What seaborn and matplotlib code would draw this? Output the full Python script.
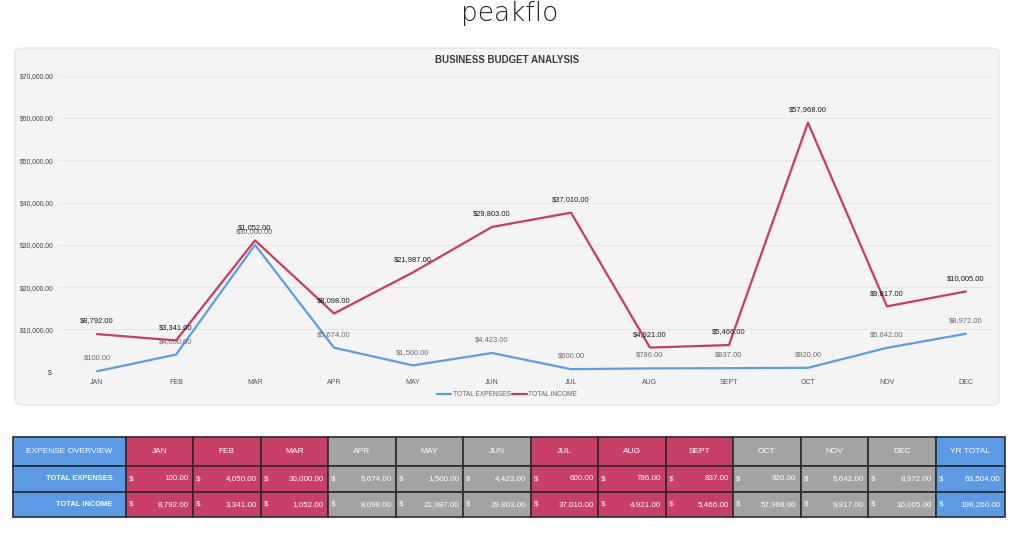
import numpy as np
import pandas as pd
import matplotlib
matplotlib.use('Agg')
import matplotlib.pyplot as plt
from matplotlib.patches import FancyBboxPatch, Rectangle
import seaborn as sns

# данные --------------------------------
months = ['JAN', 'FEB', 'MAR', 'APR', 'MAY', 'JUN', 'JUL', 'AUG', 'SEPT', 'OCT', 'NOV', 'DEC']
expenses = [100, 4050, 30000, 5674, 1500, 4423, 600, 786, 837, 920, 5642, 8972]
income = [8792, 3341, 1052, 8098, 21987, 29803, 37010, 4921, 5466, 57968, 9817, 10005]
series_names = ['TOTAL EXPENSES', 'TOTAL INCOME']
y_ticks = [0, 10000, 20000, 30000, 40000, 50000, 60000, 70000]

BLUE = '#5b9be6'
PINK = '#c93f68'
GREY = '#a3a3a3'
LINE_BLUE = '#5a9ee8'
LINE_PINK = '#cc3a62'

# линия дохода идёт "стопкой" поверх расходов, как в исходном графике
stacked_income = np.array(expenses) + np.array(income)
df = pd.DataFrame({
    'month': list(range(len(months))) * 2,
    'value': list(expenses) + list(stacked_income),
    'series': [series_names[0]] * len(months) + [series_names[1]] * len(months),
})

sns.set_theme(style='white')
plt.rcParams['font.family'] = ['Liberation Sans', 'DejaVu Sans']

W, H = 1024, 534
fig = plt.figure(figsize=(W / 100, H / 100), dpi=100)

def fx(px):
    return px / W

def fy(py):
    return 1 - py / H

# логотип
fig.text(fx(510), fy(13), 'peakflo', ha='center', va='center', fontsize=19,
         color='#1e1e1e', family=['DejaVu Sans'], fontweight=200)

# панель графика
panel = FancyBboxPatch((fx(15), fy(405)), fx(999) - fx(15), fy(48) - fy(405),
                       boxstyle='round,pad=0,rounding_size=0.009',
                       transform=fig.transFigure, facecolor='#f4f4f4',
                       edgecolor='#e2e2e2', linewidth=0.8, zorder=-5)
fig.patches.append(panel)

fig.text(fx(507), fy(60), 'BUSINESS BUDGET ANALYSIS', ha='center', va='center',
         fontsize=7, fontweight='bold', color='#3a3a3a')

# линии --------------------------------
ax = fig.add_axes([fx(58), fy(371.7), fx(992) - fx(58), fy(75.7) - fy(371.7)])
ax.set_facecolor('none')
sns.lineplot(data=df, x='month', y='value', hue='series',
             palette=[LINE_BLUE, LINE_PINK], linewidth=1.6, ax=ax, legend=False)

ax.set_xlim(-0.494, 11.33)
ax.set_ylim(0, 70000)
ax.set_yticks(y_ticks)
ax.set_yticklabels(['$-' if v == 0 else f'${v:,.2f}' for v in y_ticks])
ax.set_xticks(range(len(months)))
ax.set_xticklabels(months)
ax.tick_params(axis='y', labelsize=4.9, labelcolor='#444444', length=0, pad=3)
ax.tick_params(axis='x', labelsize=5, labelcolor='#555555', length=0, pad=5)
ax.grid(axis='y', color='#e6e6e6', linewidth=0.8)
ax.set_axisbelow(True)
for s in ax.spines.values():
    s.set_visible(False)
ax.axhline(0, color='#e2e2e2', linewidth=0.8, zorder=0)
ax.set_xlabel('')
ax.set_ylabel('')

# подписи значений
for i in range(len(months)):
    ax.annotate(f'${expenses[i]:,.2f}', (i, expenses[i]), xytext=(0, 7),
                textcoords='offset points', ha='center', va='bottom',
                fontsize=5.4, color='#6a6a6a')
    ax.annotate(f'${income[i]:,.2f}', (i, stacked_income[i]), xytext=(0, 7),
                textcoords='offset points', ha='center', va='bottom',
                fontsize=5.4, color='#1a1a1a')

# легенда
handles = [plt.Line2D([], [], color=LINE_BLUE, linewidth=1.6),
           plt.Line2D([], [], color=LINE_PINK, linewidth=1.6)]
fig.legend(handles, series_names, loc='center', bbox_to_anchor=(fx(507), fy(395)),
           ncol=2, frameon=False, fontsize=4.8, handlelength=2.2, handletextpad=0.2,
           columnspacing=0.3, labelcolor='#666666')

# таблица --------------------------------
tax = fig.add_axes([0, 0, 1, 1], zorder=-1)
tax.set_xlim(0, W)
tax.set_ylim(H, 0)
tax.axis('off')

col_edges = [13, 125.5] + [125.5 + 67.5 * (k + 1) for k in range(12)] + [1004.5]
row_edges = [437, 466, 492, 517]
month_colors = [PINK] * 3 + [GREY] * 3 + [PINK] * 3 + [GREY] * 3
col_colors = [BLUE] + month_colors + [BLUE]
headers = ['EXPENSE OVERVIEW'] + months + ['YR TOTAL']
rows = [('TOTAL EXPENSES', expenses), ('TOTAL INCOME', income)]

for c in range(len(col_edges) - 1):
    x0, x1 = col_edges[c], col_edges[c + 1]
    for r in range(3):
        y0, y1 = row_edges[r], row_edges[r + 1]
        tax.add_patch(Rectangle((x0, y0), x1 - x0, y1 - y0, facecolor=col_colors[c],
                                edgecolor='#2b2b2b', linewidth=1.2))
    tax.text((x0 + x1) / 2, (row_edges[0] + row_edges[1]) / 2, headers[c],
             ha='center', va='center', fontsize=6.0, color='white')
    for r, (label, vals) in enumerate(rows):
        yc = (row_edges[r + 1] + row_edges[r + 2]) / 2
        if c == 0:
            tax.text(x1 - 13, yc, label, ha='right', va='center', fontsize=5.4,
                     fontweight='bold', color='white')
            continue
        v = sum(vals) if c == len(col_edges) - 2 else vals[c - 1]
        tax.text(x0 + 3, yc, '$', ha='left', va='center', fontsize=5.8, color='white')
        tax.text(x1 - 4, yc, f'{v:,.2f}', ha='right', va='center', fontsize=5.8,
                 color='white')

fig.savefig('out.png', dpi=100)
